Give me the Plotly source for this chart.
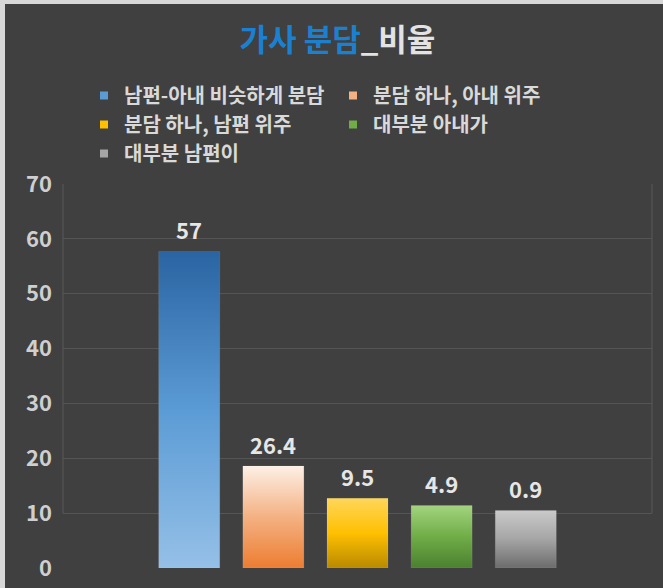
import plotly.graph_objects as go

# ---- data ----
categories = ["남편-아내 비슷하게 분담", "분담 하나, 아내 위주", "분담 하나, 남편 위주", "대부분 아내가", "대부분 남편이"]
label_values = [57, 26.4, 9.5, 4.9, 0.9]          # printed data labels
bar_heights = [57.7, 18.6, 12.7, 11.4, 10.5]      # bar tops as drawn against the axis
tick_values = [0, 10, 20, 30, 40, 50, 60, 70]

# ---- styles ----
legend_colors = ["#5b9bd5", "#f4b183", "#ffc000", "#70ad47", "#a5a5a5"]
grad_bottom = ["#95c0e7", "#ed7d31", "#b88a00", "#4b8030", "#6c6c6c"]
grad_mid = ["#5b9bd5", "#f4b183", "#ffc000", "#70ad47", "#a5a5a5"]
grad_top = ["#2a64a2", "#fdf0e6", "#ffd65a", "#a3d47f", "#cacaca"]
BG = "#404040"
FONT = "Noto Sans CJK KR"
bar_w = 0.725
W, H = 663, 588
ML, MR, MT, MB = 63, 11, 184, 20
PW, PH = W - ML - MR, H - MT - MB

fig = go.Figure()

for i, (name, h) in enumerate(zip(categories, bar_heights)):
    x0, x1 = i - bar_w / 2, i + bar_w / 2
    fig.add_trace(go.Scatter(
        x=[x0, x1, x1, x0, x0], y=[0, 0, h, h, 0],
        mode="lines", line=dict(width=0.6, color="rgba(255,255,255,0.15)"),
        fill="toself",
        fillgradient=dict(type="vertical",
                          colorscale=[[0, grad_bottom[i]], [0.5, grad_mid[i]], [1, grad_top[i]]]),
        showlegend=False, hoverinfo="skip",
    ))

for i, name in enumerate(categories):
    fig.add_trace(go.Scatter(
        x=[None], y=[None], mode="markers", name=name,
        marker=dict(symbol="square", size=8, color=legend_colors[i]),
    ))

for i, (h, v) in enumerate(zip(bar_heights, label_values)):
    fig.add_annotation(x=i, y=h, text=f"{v:g}", showarrow=False,
                       yanchor="bottom", yshift=4,
                       font=dict(family=FONT, size=22, color="#e6e6e6", weight="bold"))

# plot frame side lines
for xp in (0, 1):
    fig.add_shape(type="line", xref="paper", yref="y", x0=xp, x1=xp, y0=10, y1=70,
                  line=dict(color="#595959", width=1), layer="below")

# light image border (top / left)
fig.add_shape(type="rect", xref="paper", yref="paper",
              x0=-ML/PW, x1=-(ML-5)/PW, y0=-MB/PH - 0.01, y1=1 + MT/PH + 0.01,
              fillcolor="#d8d8d8", line_width=0)
fig.add_shape(type="rect", xref="paper", yref="paper",
              x0=-ML/PW, x1=1 + MR/PW, y0=1 + (MT-4)/PH, y1=1 + MT/PH + 0.01,
              fillcolor="#d8d8d8", line_width=0)

fig.update_layout(
    width=W, height=H,
    margin=dict(l=ML, r=MR, t=MT, b=MB, pad=0, autoexpand=False),
    paper_bgcolor=BG, plot_bgcolor=BG,
    font=dict(family=FONT, color="#d9d9d9"),
    title=dict(
        text="<span style='color:#1c80d0'>가사 분담</span><span style='color:#e3e3e3'>_비율</span>",
        x=0.509, xref="container", xanchor="center",
        y=1 - 40/588, yref="container", yanchor="middle",
        font=dict(family=FONT, size=31, weight="bold"),
    ),
    legend=dict(
        orientation="h", xref="container", yref="container",
        x=84/W, xanchor="left", y=1 - 76/H, yanchor="top",
        entrywidth=204, entrywidthmode="pixels",
        font=dict(family=FONT, size=20, color="#d9d9d9", weight="bold"),
        bgcolor="rgba(0,0,0,0)", traceorder="normal",
    ),
    xaxis=dict(range=[-1.5, 5.5], showgrid=False, zeroline=False, showticklabels=False,
               showline=False, fixedrange=True, automargin=False),
    yaxis=dict(range=[0, 70], tickvals=tick_values, showgrid=True, gridcolor="#555555",
               gridwidth=1, zeroline=False, showline=False, ticks="",
               ticklabelstandoff=10, automargin=False,
               tickfont=dict(family=FONT, size=22, color="#cfcfcf", weight="bold")),
    showlegend=True,
)

fig.write_html("out.html", config={"displayModeBar": False},
               post_script="document.body.style.margin='0';document.body.style.overflow='hidden';")
